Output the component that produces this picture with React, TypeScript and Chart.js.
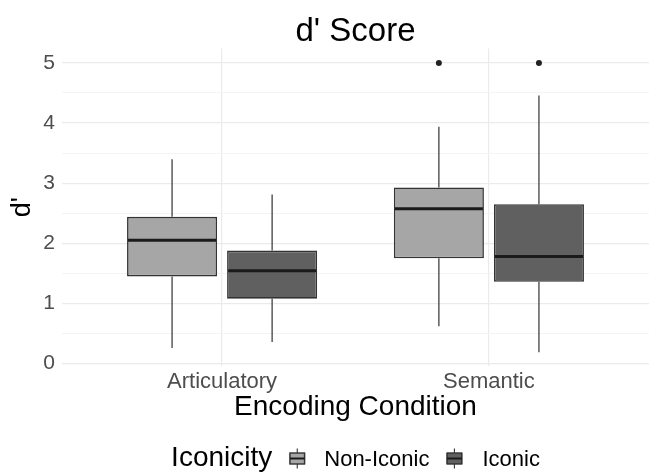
import { useEffect, useRef } from 'react';
import { Chart, registerables } from 'chart.js';

Chart.register(...registerables);

const categories = ['Articulatory', 'Semantic'];
const groups = ['Non-Iconic', 'Iconic'];
const yTickValues = [0, 0.5, 1, 1.5, 2, 2.5, 3, 3.5, 4, 4.5, 5];

// values per category: [Articulatory, Semantic]
const nonIconicMin = [0.26, 0.62];
const nonIconicQ1 = [1.45, 1.75];
const nonIconicMedian = [2.05, 2.575];
const nonIconicQ3 = [2.44, 2.93];
const nonIconicMax = [3.4, 3.94];
const nonIconicOutliers: number[][] = [[], [5.0]];

const iconicMin = [0.36, 0.19];
const iconicQ1 = [1.08, 1.36];
const iconicMedian = [1.545, 1.78];
const iconicQ3 = [1.88, 2.65];
const iconicMax = [2.81, 4.46];
const iconicOutliers: number[][] = [[], [5.0]];

const FONT = '"Liberation Sans", Arial, Helvetica, sans-serif';
const FILLS = ['#A6A6A6', '#606060'];
const EDGE = '#333333';

const stats = [
  { min: nonIconicMin, q1: nonIconicQ1, med: nonIconicMedian, q3: nonIconicQ3, max: nonIconicMax, out: nonIconicOutliers },
  { min: iconicMin, q1: iconicQ1, med: iconicMedian, q3: iconicQ3, max: iconicMax, out: iconicOutliers },
];

function drawGlyph(ctx: CanvasRenderingContext2D, x: number, yc: number, fill: string) {
  ctx.save();
  ctx.strokeStyle = EDGE;
  ctx.lineWidth = 1.1;
  ctx.beginPath();
  ctx.moveTo(x + 8, yc - 10);
  ctx.lineTo(x + 8, yc + 10);
  ctx.stroke();
  ctx.fillStyle = fill;
  ctx.fillRect(x, yc - 5.5, 16, 11);
  ctx.lineWidth = 1.4;
  ctx.strokeRect(x + 0.7, yc - 5.5, 14.6, 11);
  ctx.strokeStyle = '#1A1A1A';
  ctx.lineWidth = 2;
  ctx.beginPath();
  ctx.moveTo(x + 0.7, yc);
  ctx.lineTo(x + 15.3, yc);
  ctx.stroke();
  ctx.restore();
}

const boxPlugin = {
  id: 'boxExtras',
  afterDatasetsDraw(chart: any) {
    const ctx: CanvasRenderingContext2D = chart.ctx;
    const ys = chart.scales.y;
    stats.forEach((s, di) => {
      const meta = chart.getDatasetMeta(di);
      meta.data.forEach((bar: any, j: number) => {
        const { x, width } = bar.getProps(['x', 'width'], true);
        ctx.save();
        ctx.strokeStyle = EDGE;
        ctx.lineWidth = 1.2;
        ctx.beginPath();
        ctx.moveTo(x, ys.getPixelForValue(s.q3[j]));
        ctx.lineTo(x, ys.getPixelForValue(s.max[j]));
        ctx.moveTo(x, ys.getPixelForValue(s.q1[j]));
        ctx.lineTo(x, ys.getPixelForValue(s.min[j]));
        ctx.stroke();
        ctx.strokeStyle = '#1A1A1A';
        ctx.lineWidth = 3;
        ctx.beginPath();
        const my = ys.getPixelForValue(s.med[j]);
        ctx.moveTo(x - width / 2 + 1, my);
        ctx.lineTo(x + width / 2 - 1, my);
        ctx.stroke();
        ctx.fillStyle = '#222222';
        s.out[j].forEach((v) => {
          ctx.beginPath();
          ctx.arc(x, ys.getPixelForValue(v), 3, 0, Math.PI * 2);
          ctx.fill();
        });
        ctx.restore();
      });
    });
  },
  afterDraw(chart: any) {
    const ctx: CanvasRenderingContext2D = chart.ctx;
    const area = chart.chartArea;
    const cx = (area.left + area.right) / 2;
    ctx.save();
    ctx.fillStyle = '#000000';
    ctx.textBaseline = 'alphabetic';
    ctx.textAlign = 'center';
    ctx.font = `33px ${FONT}`;
    ctx.fillText("d' Score", cx, 41);
    ctx.font = `28px ${FONT}`;
    ctx.fillText('Encoding Condition', cx, 415);
    // y title
    ctx.save();
    ctx.translate(30, (area.top + area.bottom) / 2);
    ctx.rotate(-Math.PI / 2);
    ctx.font = `27px ${FONT}`;
    ctx.fillText("d'", 0, 0);
    ctx.restore();
    // legend
    ctx.textAlign = 'left';
    ctx.font = `28px ${FONT}`;
    const tW = ctx.measureText('Iconicity').width;
    ctx.font = `22px ${FONT}`;
    const l1 = ctx.measureText(groups[0]).width;
    const l2 = ctx.measureText(groups[1]).width;
    const total = tW + 17 + 16 + 19 + l1 + 17 + 16 + 20 + l2;
    let x = cx - total / 2;
    const base = 466;
    ctx.font = `28px ${FONT}`;
    ctx.fillText('Iconicity', x, base);
    x += tW + 17;
    drawGlyph(ctx, x, 458.5, FILLS[0]);
    x += 16 + 19;
    ctx.font = `22px ${FONT}`;
    ctx.fillText(groups[0], x, base);
    x += l1 + 17;
    drawGlyph(ctx, x, 458.5, FILLS[1]);
    x += 16 + 20;
    ctx.fillText(groups[1], x, base);
    ctx.restore();
  },
};

export default function App() {
  const ref = useRef<HTMLCanvasElement | null>(null);
  useEffect(() => {
    if (!ref.current) return;
    const chart = new Chart(ref.current, {
      type: 'bar',
      data: {
        datasets: groups.map((g, di) => ({
          label: g,
          data: categories.map((_, j) => ({ x: j + 1, y: [stats[di].q1[j], stats[di].q3[j]] })),
          backgroundColor: FILLS[di],
          borderColor: EDGE,
          borderWidth: 1.6,
          borderSkipped: false,
          categoryPercentage: 0.75,
          barPercentage: 0.9,
        })) as any,
      },
      options: {
        responsive: false,
        animation: false,
        devicePixelRatio: 1,
        layout: { padding: { top: 48.5, right: 2, left: 0, bottom: 0 } },
        plugins: { legend: { display: false }, tooltip: { enabled: false }, title: { display: false } },
        scales: {
          x: {
            type: 'linear',
            min: 0.4,
            max: 2.6,
            offset: false,
            afterBuildTicks: (scale: any) => {
              scale.ticks = categories.map((_, i) => ({ value: i + 1 }));
            },
            afterFit: (scale: any) => {
              scale.height = 109;
            },
            ticks: {
              callback: (v: any) => categories[Math.round(Number(v)) - 1] ?? '',
              color: '#4D4D4D',
              font: { size: 22, family: FONT },
              padding: 3,
              maxRotation: 0,
              autoSkip: false,
            },
            grid: { color: '#EBEBEB', lineWidth: 1.2, drawTicks: false, offset: false },
            border: { display: false },
          },
          y: {
            type: 'linear',
            min: -0.04,
            max: 5.24,
            afterBuildTicks: (scale: any) => {
              scale.ticks = yTickValues.map((v) => ({ value: v }));
            },
            afterFit: (scale: any) => {
              scale.width = 62;
            },
            ticks: {
              callback: (v: any) => (Number.isInteger(Number(v)) ? String(v) : ''),
              color: '#4D4D4D',
              font: { size: 21, family: FONT },
              padding: 7,
              autoSkip: false,
            },
            grid: {
              color: (c: any) => (Number.isInteger(c.tick?.value) ? '#EBEBEB' : '#F3F3F3'),
              lineWidth: (c: any) => (Number.isInteger(c.tick?.value) ? 1.2 : 0.9),
              drawTicks: false,
            },
            border: { display: false },
          },
        },
      } as any,
      plugins: [boxPlugin],
    });
    return () => chart.destroy();
  }, []);
  return (
    <div style={{ position: 'fixed', left: 0, top: 0, width: 651, height: 475, background: '#fff' }}>
      <canvas ref={ref} width={651} height={475} style={{ display: 'block' }} />
    </div>
  );
}
